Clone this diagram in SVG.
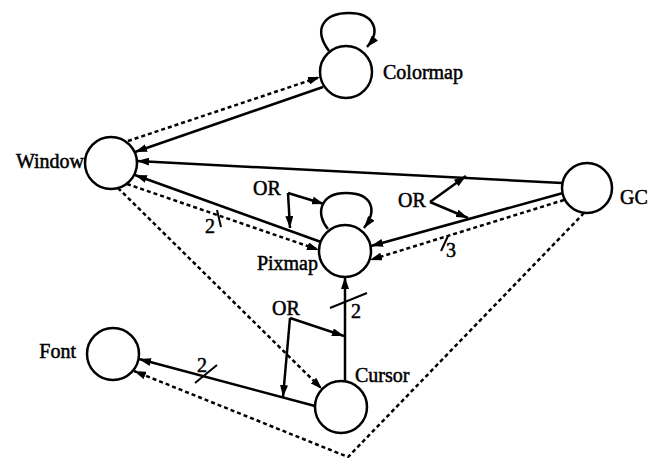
<svg xmlns="http://www.w3.org/2000/svg" width="650" height="458" viewBox="0 0 650 458">
<defs>
<marker id="ah" viewBox="0 0 12 8" refX="12" refY="4" markerWidth="12" markerHeight="8" markerUnits="userSpaceOnUse" orient="auto"><path d="M0,0 L12,4 L0,8 z" fill="#000"/></marker>
<style>
.node{fill:#fff;stroke:#000;stroke-width:2.5}
.lbl{font-family:"Liberation Serif","Times New Roman",serif;font-size:20px;fill:#000;stroke:#000;stroke-width:0.5}
.s{fill:none;stroke:#000;stroke-width:2.5}
.d{fill:none;stroke:#000;stroke-width:2.5;stroke-dasharray:4 3}
.a{marker-end:url(#ah)}
.t{fill:none;stroke:#000;stroke-width:2}
</style>
</defs>
<rect width="650" height="458" fill="#fff"/>
<g id="connectors">
<path class="s a" d="M329,51 C312,28 325,13 349,13 C373,13 382,30 367,47"/>
<path class="s a" d="M328,229 C315,214 320,193 346,193 C372,193 378,210 364,228"/>
<line class="s a" x1="323" y1="87" x2="135" y2="152"/>
<line class="d a" x1="128" y1="141" x2="320" y2="77"/>
<line class="s a" x1="562" y1="183" x2="137" y2="161"/>
<line class="s a" x1="321" y1="242" x2="135" y2="175"/>
<line class="d a" x1="127" y1="184" x2="319" y2="250"/>
<line class="s a" x1="563" y1="193" x2="371" y2="246"/>
<line class="d a" x1="564" y1="200" x2="370" y2="260"/>
<line class="s a" x1="345" y1="381" x2="345" y2="277"/>
<line class="s a" x1="315" y1="406" x2="139" y2="359"/>
<polyline class="d a" points="584,213 348,457 134,371"/>
<line class="d a" x1="118" y1="188" x2="322" y2="389"/>
<path class="s a" d="M288,193 L324,204"/>
<path class="s a" d="M288,193 L290,228"/>
<path class="s a" d="M430,202 L466,176"/>
<path class="s a" d="M430,202 L468,218"/>
<path class="s a" d="M290,318 L344,336"/>
<path class="s a" d="M290,318 L283,397"/>
<line class="t" x1="217" y1="210" x2="221" y2="227"/>
<line class="t" x1="441" y1="251" x2="448" y2="236"/>
<line class="t" x1="330" y1="308" x2="367" y2="293"/>
<line class="t" x1="195" y1="383" x2="217" y2="365"/>
<g class="lbl">
<text x="253" y="195">OR</text>
<text x="398" y="207">OR</text>
<text x="272" y="315">OR</text>
<text x="205" y="233">2</text>
<text x="446" y="257">3</text>
<text x="351" y="318">2</text>
<text x="197" y="372">2</text>
</g>
</g>
<g id="Colormap"><circle class="node" cx="346" cy="72" r="26"/><text class="lbl" x="383" y="79">Colormap</text></g>
<g id="Window"><circle class="node" cx="111" cy="163" r="26"/><text class="lbl" x="84" y="168" text-anchor="end">Window</text></g>
<g id="GC"><circle class="node" cx="587" cy="188" r="25"/><text class="lbl" x="620" y="204">GC</text></g>
<g id="Pixmap"><circle class="node" cx="345" cy="251" r="26"/><text class="lbl" x="318" y="270" text-anchor="end">Pixmap</text></g>
<g id="Cursor"><circle class="node" cx="341" cy="407" r="26"/><text class="lbl" x="355" y="382">Cursor</text></g>
<g id="Font"><circle class="node" cx="113" cy="354" r="26"/><text class="lbl" x="76" y="358" text-anchor="end">Font</text></g>
</svg>
